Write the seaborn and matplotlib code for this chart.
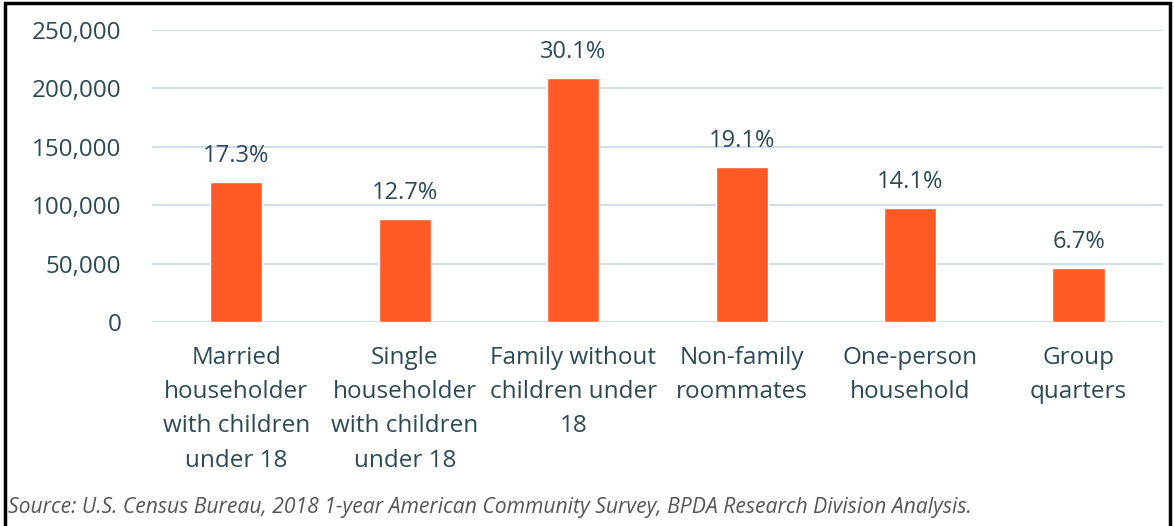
import matplotlib
matplotlib.use("Agg")
import matplotlib.pyplot as plt
import seaborn as sns
import pandas as pd
from matplotlib.patches import Rectangle
from matplotlib.ticker import FuncFormatter

# ── Data ────────────────────────────────────────────────
categories = ["Married\nhouseholder\nwith children\nunder 18",
              "Single\nhouseholder\nwith children\nunder 18",
              "Family without\nchildren under\n18",
              "Non-family\nroommates",
              "One-person\nhousehold",
              "Group\nquarters"]
counts = [120000, 88000, 209000, 132500, 97700, 46400]
shares = ["17.3%", "12.7%", "30.1%", "19.1%", "14.1%", "6.7%"]

BAR = "#FF5A26"
TXT = "#2C4A56"
GRID = "#D3DEE4"

sns.set_theme(style="white")
plt.rcParams["font.family"] = ["Open Sans", "DejaVu Sans"]

df = pd.DataFrame({"cat": categories, "n": counts})

fig = plt.figure(figsize=(11.74, 5.26), dpi=100)
ax = fig.add_axes([0.1295, 0.388, 0.861, 0.555])
sns.barplot(data=df, x="cat", y="n", color=BAR, width=0.31, saturation=1, ax=ax, zorder=3)

ax.set_ylim(0, 250000)
ax.set_yticks(range(0, 250001, 50000))
ax.yaxis.set_major_formatter(FuncFormatter(lambda v, p: f"{int(v):,}"))
ax.grid(axis="y", color=GRID, linewidth=1.6, zorder=0)
ax.set_axisbelow(True)
for s in ax.spines.values():
    s.set_visible(False)
ax.set_xlabel(""); ax.set_ylabel("")
ax.tick_params(axis="y", length=0, pad=22, labelsize=17.5, labelcolor=TXT)
ax.tick_params(axis="x", length=0, pad=17, labelsize=17.5, labelcolor=TXT)
for lbl in ax.get_xticklabels():
    lbl.set_linespacing(1.58)
    lbl.set_va("top")

for bar, s in zip(ax.patches, shares):
    ax.annotate(s, (bar.get_x() + bar.get_width() / 2, bar.get_height()),
                xytext=(0, 10), textcoords="offset points",
                ha="center", va="bottom", fontsize=17, color=TXT)

fig.text(0.007, 0.035, "Source: U.S. Census Bureau, 2018 1-year American Community Survey, BPDA Research Division Analysis.",
         fontsize=15.2, style="italic", color="#555555", ha="left", va="center")

fig.patches.append(Rectangle((0.004, -0.01), 0.993, 1.004, transform=fig.transFigure,
                             fill=False, edgecolor="black", linewidth=2.5))

fig.savefig("out.png", dpi=100)
